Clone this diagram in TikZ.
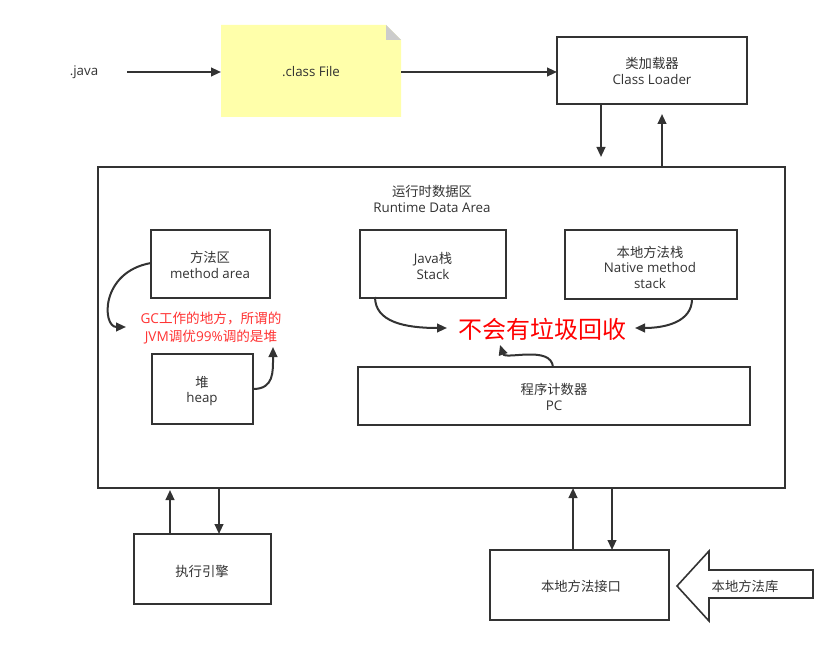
\documentclass[tikz,border=0pt]{standalone}
\usepackage{fontspec}
\setmainfont{Open Sans}
\newfontfamily\cjk{Noto Sans CJK SC}
\newcommand{\zh}[1]{{\cjk #1}}
\usetikzlibrary{arrows.meta}
\definecolor{ln}{HTML}{333333}
\definecolor{note}{HTML}{FFFFAA}
\definecolor{gcred}{HTML}{FF3333}
\tikzset{
  box/.style={draw=ln, line width=1.5pt, fill=white},
  lbl/.style={text=ln, font=\fontsize{10}{11.6}\selectfont, align=center, inner sep=0pt},
  arr/.style={draw=ln, line width=1.5pt, -{Triangle[length=7.5pt,width=6.5pt]}},
}
\begin{document}
\begin{tikzpicture}[x=0.75pt,y=-0.75pt]
\useasboundingbox (0,0) rectangle (838,645);
% note
\fill[note] (221,25) -- (386,25) -- (401,40) -- (401,117) -- (221,117) -- cycle;
\fill[black!20] (386,25) -- (401,40) -- (386,40) -- cycle;
\node[lbl] (cls) at (311,72) {.class File};
\coordinate (clsL) at (221,72);
\coordinate (clsR) at (401,72);
\node[lbl] (java) at (84,72) {.java};
\coordinate (javaR) at (127,72);
% class loader
\draw[box] (557,37) rectangle (747,104);
\node[lbl] (cl) at (652,71) {\zh{类加载器}\\Class Loader};
% runtime
\draw[box] (98,167) rectangle (785,488);
\node[lbl] (rda) at (432,199) {\zh{运行时数据区}\\Runtime Data Area};
% boxes
\draw[box] (151,230) rectangle (270,298);
\node[lbl] (ma) at (210,265) {\zh{方法区}\\method area};
\draw[box] (152,354) rectangle (253,424);
\node[lbl] (heap) at (202,391) {\zh{堆}\\heap};
\node[text=gcred, font=\fontsize{10.2}{12.8}\selectfont, align=center, inner sep=0pt] (gc) at (211,328) {GC\zh{工作的地方，所谓的}\\JVM\zh{调优}99\%\zh{调的是堆}};
\draw[box] (360,230) rectangle (506,298);
\node[lbl] (js) at (433,266) {Java\zh{栈}\\Stack};
\draw[box] (565,230) rectangle (737,299);
\node[lbl] (ns) at (650,267) {\zh{本地方法栈}\\Native method\\stack};
\node[text=red, font=\fontsize{18}{20}\selectfont\cjk, inner sep=0pt] (nogc) at (542,329) {不会有垃圾回收};
\draw[box] (358,367) rectangle (750,425);
\node[lbl] (pc) at (554,397) {\zh{程序计数器}\\PC};
\draw[box] (134,534) rectangle (271,604);
\node[lbl] (ee) at (202,571) {\zh{执行引擎}};
\draw[box] (490,550) rectangle (669,620);
\node[lbl] (ni) at (581,586) {\zh{本地方法接口}};
% hollow arrow
\draw[draw=ln, line width=1.2pt, fill=white] (677,586) -- (709,551) -- (709,570) -- (813,570) -- (813,598) -- (709,598) -- (709,621) -- cycle;
\node[lbl] (lib) at (745,586) {\zh{本地方法库}};
% straight arrows
\draw[arr] (javaR) -- (clsL);
\draw[arr] (clsR) -- (557,72);
\draw[arr] (601,104) -- (601,157);
\draw[arr] (662,167) -- (662,114);
\draw[arr] (170,534) -- (170,490);
\draw[arr] (219,488) -- (219,534);
\draw[arr] (573,550) -- (573,488);
\draw[arr] (612,488) -- (612,550);
% curved arrows
\draw[arr] (151,263) .. controls (100,272) and (102,327) .. (126,327);
\draw[arr] (253,389) .. controls (274,389) and (273,372) .. (273,347);
\draw[arr] (375,297) .. controls (375,322) and (405,328) .. (447,328);
\draw[arr] (692,299) .. controls (692,322) and (665,328) .. (635,328);
\draw[arr] (553,367) .. controls (551,345) and (505,360) .. (500,345);
\end{tikzpicture}
\end{document}
